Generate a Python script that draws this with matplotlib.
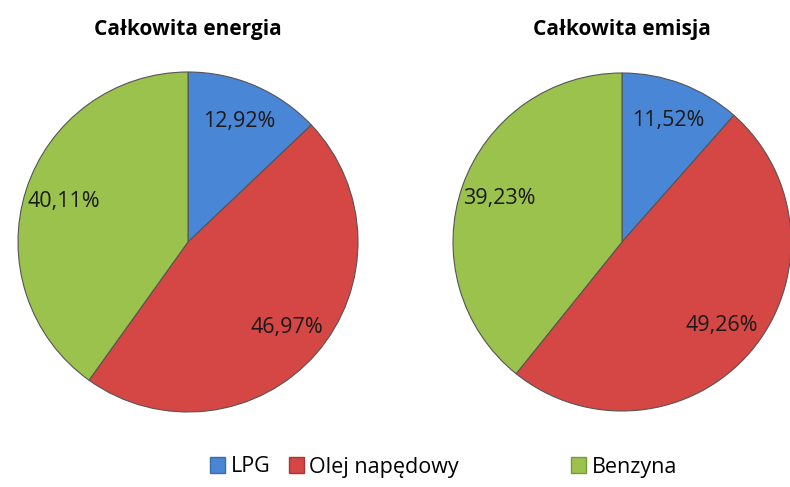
import matplotlib.pyplot as plt
from matplotlib.patches import Patch

plt.rcParams['font.family'] = ['Open Sans', 'DejaVu Sans']

categories = ["LPG", "Olej napędowy", "Benzyna"]
titles = ["Całkowita energia", "Całkowita emisja"]
energia = [12.92, 46.97, 40.11]
emisja = [11.52, 49.26, 39.23]
colors = ["#4a86d6", "#d44744", "#9bc24c"]
edge = ["#3a6aa8", "#a83634", "#7a9a3a"]

W, H = 790, 487
fig = plt.figure(figsize=(W / 100, H / 100), dpi=100)


def pie_axes(cx, cy, r):
    return fig.add_axes([(cx - r) / W, (H - cy - r) / H, 2 * r / W, 2 * r / H])


def fmt(p):
    return f"{p:.2f}".replace(".", ",") + "%"


for (cx, cy, r), vals, title in zip([(188, 242, 170), (622, 242, 169)],
                                    [energia, emisja], titles):
    ax = pie_axes(cx, cy, r)
    wedges, texts, autotexts = ax.pie(
        vals, colors=colors, startangle=90, counterclock=False,
        autopct=fmt, pctdistance=0.77, radius=1.0,
        wedgeprops=dict(linewidth=0.8, edgecolor="#555555"),
        textprops=dict(fontsize=15.5, color="#1a1a1a"))
    ax.set_xlim(-1.0, 1.0)
    ax.set_ylim(-1.0, 1.0)
    ax.set_aspect("equal")
    fig.text(cx / W, 1 - 29 / H, title, ha="center", va="center",
             fontsize=15, fontweight="bold")

# legend, one entry each so the gaps match the original
for name, col, ec, x in zip(categories, colors, edge, [210, 289, 571]):
    fig.legend(handles=[Patch(facecolor=col, edgecolor=ec, label=name)],
               loc="center left", bbox_to_anchor=(x / W, 1 - 467 / H),
               frameon=False, fontsize=15.5, handlelength=0.7, handleheight=0.7,
               handletextpad=0.25, borderpad=0, borderaxespad=0)

fig.savefig("out.png", dpi=100)
